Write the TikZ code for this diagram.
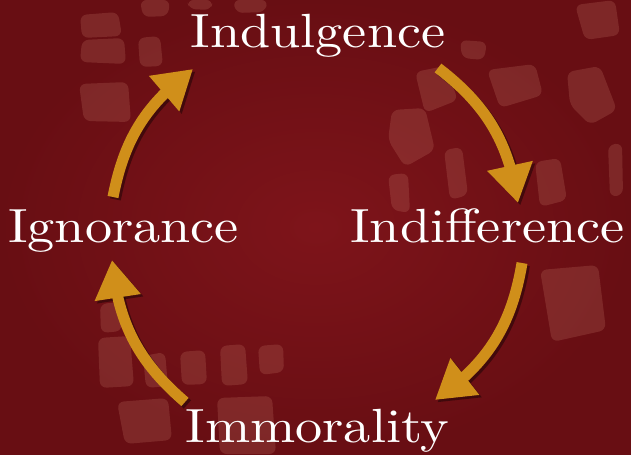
\documentclass[tikz,border=0pt]{standalone}
\usepackage{fontspec}
\usetikzlibrary{arrows.meta,bending}

\newfontfamily\wordfont{lmroman10-regular}[Extension=.otf, FakeStretch=1.13]

\definecolor{wine}{RGB}{126,20,26}
\definecolor{winedark}{RGB}{104,14,19}
\definecolor{gold}{RGB}{208,143,26}
\definecolor{sole}{RGB}{205,130,112}

\begin{document}
\begin{tikzpicture}[x=0.75pt,y=0.75pt,
  word/.style={font=\wordfont\fontsize{36}{36}\selectfont, text=white,
    anchor=base, inner sep=0pt},
  cycarrow/.style={line width=8.25pt, draw=gold,
    -{Triangle[width=33pt,length=28.5pt]}},
  cycshadow/.style={cycarrow, draw=black, opacity=0.4,
    transform canvas={xshift=1.8pt,yshift=-1.8pt}},
  sole/.style={fill=sole, opacity=0.22, rounded corners=5pt}]

  \useasboundingbox (0,0) rectangle (631,454);
  \clip (0,0) rectangle (631,454);

  % background
  \shade[inner color=wine, outer color=winedark] (-2,-2) rectangle (633,456);

  % faint boot prints (image coordinates, y downwards)
  \begin{scope}[shift={(0,454)}, yscale=-1]
    % top left
    \fill[sole] (80,15)--(118,12)--(122,36)--(82,38)--cycle;
    \fill[sole] (82,40)--(124,38)--(126,64)--(80,62)--cycle;
    \fill[sole] (138,38)--(160,36)--(163,66)--(140,67)--cycle;
    \fill[sole] (79,84)--(128,82)--(131,122)--(84,121)--cycle;
    \fill[sole] (140,0)--(170,0)--(168,16)--(143,17)--cycle;
    \fill[sole] (187,0)--(213,0)--(211,10)--(189,9)--cycle;
    \fill[sole] (233,0)--(268,0)--(265,12)--(236,13)--cycle;
    % right
    \fill[sole] (415,72)--(445,66)--(458,100)--(425,113)--cycle;
    \fill[sole] (487,70)--(535,64)--(543,95)--(500,108)--cycle;
    \fill[sole] (567,72)--(600,66)--(617,110)--(590,125)--(570,105)--cycle;
    \fill[sole] (392,110)--(425,108)--(435,150)--(405,167)--(388,140)--cycle;
    \fill[sole] (444,150)--(462,147)--(468,195)--(450,200)--cycle;
    \fill[sole] (535,162)--(560,158)--(567,200)--(540,207)--cycle;
    \fill[sole] (608,145)--(622,143)--(623,195)--(610,197)--cycle;
    \fill[sole] (460,40)--(487,42)--(484,60)--(462,58)--cycle;
    \fill[sole] (388,175)--(408,173)--(410,213)--(392,210)--cycle;
    \fill[sole] (575,5)--(615,0)--(620,35)--(585,40)--cycle;
    \fill[sole] (540,270)--(598,265)--(606,330)--(552,342)--cycle;
    % bottom left
    \fill[sole] (100,304)--(120,302)--(122,331)--(101,333)--cycle;
    \fill[sole] (98,338)--(130,336)--(134,386)--(100,388)--cycle;
    \fill[sole] (143,356)--(165,352)--(168,386)--(146,388)--cycle;
    \fill[sole] (180,352)--(205,350)--(207,384)--(182,385)--cycle;
    \fill[sole] (220,346)--(245,344)--(248,384)--(222,386)--cycle;
    \fill[sole] (258,346)--(283,344)--(284,372)--(260,375)--cycle;
    \fill[sole] (117,402)--(168,398)--(172,440)--(125,444)--cycle;
    \fill[sole] (217,398)--(272,396)--(276,454)--(220,454)--cycle;
  \end{scope}

  % words
  \node[word] (indulgence) at (318,406) {Indulgence};
  \node[word] (ignorance) at (123.5,212) {Ignorance};
  \node[word] (indifference) at (487.5,212) {Indifference};
  \node[word] (immorality) at (317.5,12) {Immorality};

  % arrow ends
  \coordinate (ign-out) at (113,257);
  \coordinate (ind-in) at (193,385);
  \coordinate (ind-out) at (438,386);
  \coordinate (dif-in) at (518,251);
  \coordinate (dif-out) at (522,191);
  \coordinate (imm-in) at (435,54);
  \coordinate (imm-out) at (185,52);
  \coordinate (ign-in) at (112,194);

  \draw[cycshadow] (ign-out) to[bend left=21] (ind-in);
  \draw[cycshadow] (ind-out) to[bend left=22] (dif-in);
  \draw[cycshadow] (dif-out) to[bend left=23] (imm-in);
  \draw[cycshadow] (imm-out) to[bend left=22] (ign-in);

  \draw[cycarrow] (ign-out) to[bend left=21] (ind-in);
  \draw[cycarrow] (ind-out) to[bend left=22] (dif-in);
  \draw[cycarrow] (dif-out) to[bend left=23] (imm-in);
  \draw[cycarrow] (imm-out) to[bend left=22] (ign-in);
\end{tikzpicture}
\end{document}
